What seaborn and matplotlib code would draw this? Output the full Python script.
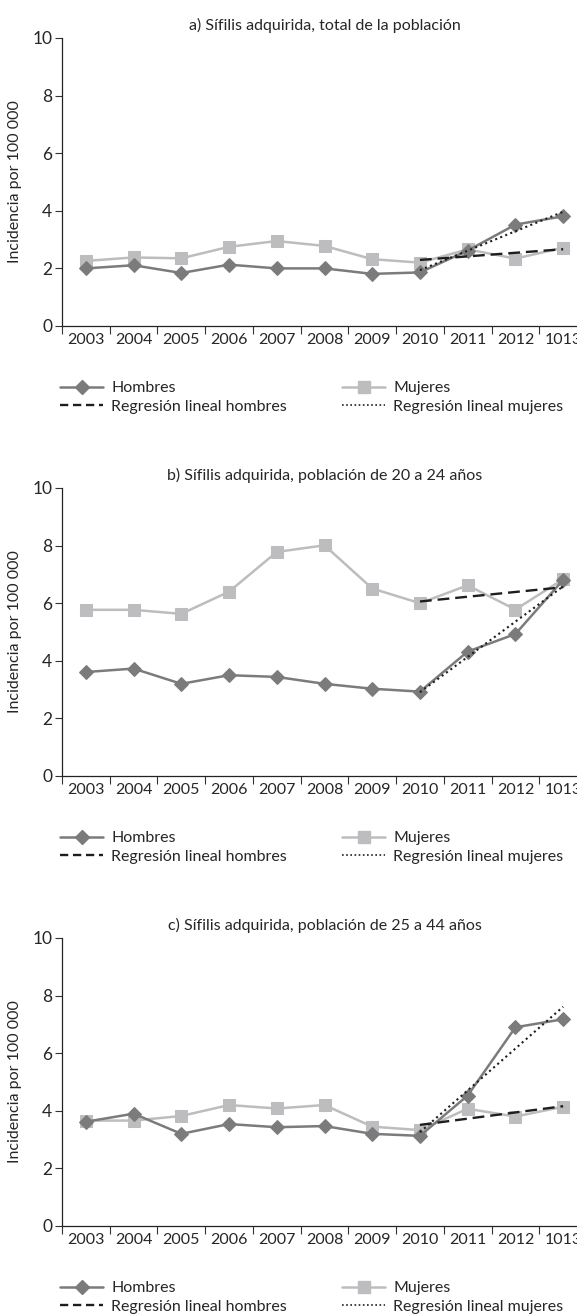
import numpy as np
import matplotlib
matplotlib.use("Agg")
import matplotlib.pyplot as plt
from matplotlib.lines import Line2D
import seaborn as sns

# years as printed on the original axis (the last one carries the typo "1013")
years = ["2003", "2004", "2005", "2006", "2007", "2008", "2009", "2010", "2011", "2012", "1013"]

titles = [
    "a) Sífilis adquirida, total de la población",
    "b) Sífilis adquirida, población de 20 a 24 años",
    "c) Sífilis adquirida, población de 25 a 44 años",
]

hombres_total = [2.0, 2.11, 1.84, 2.13, 2.0, 2.0, 1.81, 1.86, 2.62, 3.52, 3.81]
mujeres_total = [2.26, 2.38, 2.35, 2.75, 2.95, 2.78, 2.32, 2.2, 2.66, 2.34, 2.72]

hombres_20_24 = [3.61, 3.73, 3.2, 3.5, 3.44, 3.2, 3.03, 2.93, 4.32, 4.93, 6.81]
mujeres_20_24 = [5.77, 5.77, 5.63, 6.4, 7.78, 8.01, 6.51, 6.0, 6.62, 5.78, 6.83]

hombres_25_44 = [3.62, 3.9, 3.2, 3.54, 3.43, 3.47, 3.2, 3.13, 4.53, 6.9, 7.18]
mujeres_25_44 = [3.66, 3.66, 3.82, 4.2, 4.08, 4.2, 3.45, 3.33, 4.07, 3.8, 4.14]

# regression fitted over 2010-2013
reg_start = 7

hombres_sets = [hombres_total, hombres_20_24, hombres_25_44]
mujeres_sets = [mujeres_total, mujeres_20_24, mujeres_25_44]

c_hombres = "#7b7b7b"
c_mujeres = "#bdbdbf"
c_reg = "#1e1e1e"

sns.set_theme(style="ticks")
plt.rcParams["font.family"] = ["Lato", "DejaVu Sans"]

W, H = 577, 1316
fig = plt.figure(figsize=(W / 100, H / 100), dpi=100)

left_px, width_px = 62, 525
panel_top_px = [38, 488, 938]
panel_h_px = 288

pos = np.arange(len(years))

for i in range(3):
    top = panel_top_px[i]
    ax = fig.add_axes([left_px / W, 1 - (top + panel_h_px) / H, width_px / W, panel_h_px / H])

    h = np.array(hombres_sets[i])
    m = np.array(mujeres_sets[i])

    sns.lineplot(x=pos, y=m, ax=ax, color=c_mujeres, lw=1.8, marker="s",
                 markersize=8.5, markeredgecolor=c_mujeres, zorder=2)
    sns.lineplot(x=pos, y=h, ax=ax, color=c_hombres, lw=1.8, marker="D",
                 markersize=7.5, markeredgecolor=c_hombres, zorder=3)

    # regression lines as drawn in the source: dashed follows women, dotted follows men
    sns.regplot(x=pos[reg_start:], y=m[reg_start:], ax=ax, scatter=False, ci=None,
                truncate=True, line_kws=dict(color=c_reg, lw=1.7, ls=(0, (5, 2.5)), zorder=4))
    sns.regplot(x=pos[reg_start:], y=h[reg_start:], ax=ax, scatter=False, ci=None,
                truncate=True, line_kws=dict(color=c_reg, lw=1.5, ls=(0, (1, 1.6)), zorder=4))

    ax.set_xlim(-0.5, len(years) - 0.5)
    ax.set_ylim(0, 10)
    ax.set_yticks([0, 2, 4, 6, 8, 10])
    ax.set_yticklabels(["0", "2", "4", "6", "8", "10"], fontsize=12.5)
    ax.set_xticks(np.arange(-0.5, len(years), 1.0))
    ax.set_xticklabels([])
    ax.set_xticks(pos, minor=True)
    ax.set_xticklabels(years, minor=True, fontsize=11.5)
    ax.tick_params(axis="x", which="major", length=6, width=0.8, color="#333333", direction="out")
    ax.tick_params(axis="x", which="minor", length=0, pad=5)
    ax.tick_params(axis="y", length=5, width=0.8, color="#333333", pad=2)
    for s in ["top", "right"]:
        ax.spines[s].set_visible(False)
    for s in ["left", "bottom"]:
        ax.spines[s].set_linewidth(0.9)
        ax.spines[s].set_color("#222222")

    ax.set_xlabel("")
    ax.set_ylabel("Incidencia por 100 000", fontsize=11.5)
    ax.yaxis.set_label_coords(-40 / width_px, 0.5)
    ax.set_title(titles[i], fontsize=11.5, pad=6)

    h1 = [Line2D([], [], color=c_hombres, lw=1.8, marker="D", markersize=7.5,
                 markeredgecolor=c_hombres),
          Line2D([], [], color=c_reg, lw=1.7, ls=(0, (3.5, 2)))]
    h2 = [Line2D([], [], color=c_mujeres, lw=1.8, marker="s", markersize=8.5,
                 markeredgecolor=c_mujeres),
          Line2D([], [], color=c_reg, lw=1.2, ls=(0, (1, 1.5)))]
    leg_y = -55 / panel_h_px
    kw = dict(loc="upper left", frameon=False, borderpad=0, borderaxespad=0,
              handlelength=2.7, handletextpad=0.5, labelspacing=0.26, fontsize=11.5)
    leg1 = ax.legend(h1, ["Hombres", "Regresión lineal hombres"],
                     bbox_to_anchor=((60 - left_px) / width_px, leg_y), **kw)
    ax.add_artist(leg1)
    ax.legend(h2, ["Mujeres", "Regresión lineal mujeres"],
              bbox_to_anchor=((342 - left_px) / width_px, leg_y), **kw)

fig.savefig("out.png", dpi=100)
